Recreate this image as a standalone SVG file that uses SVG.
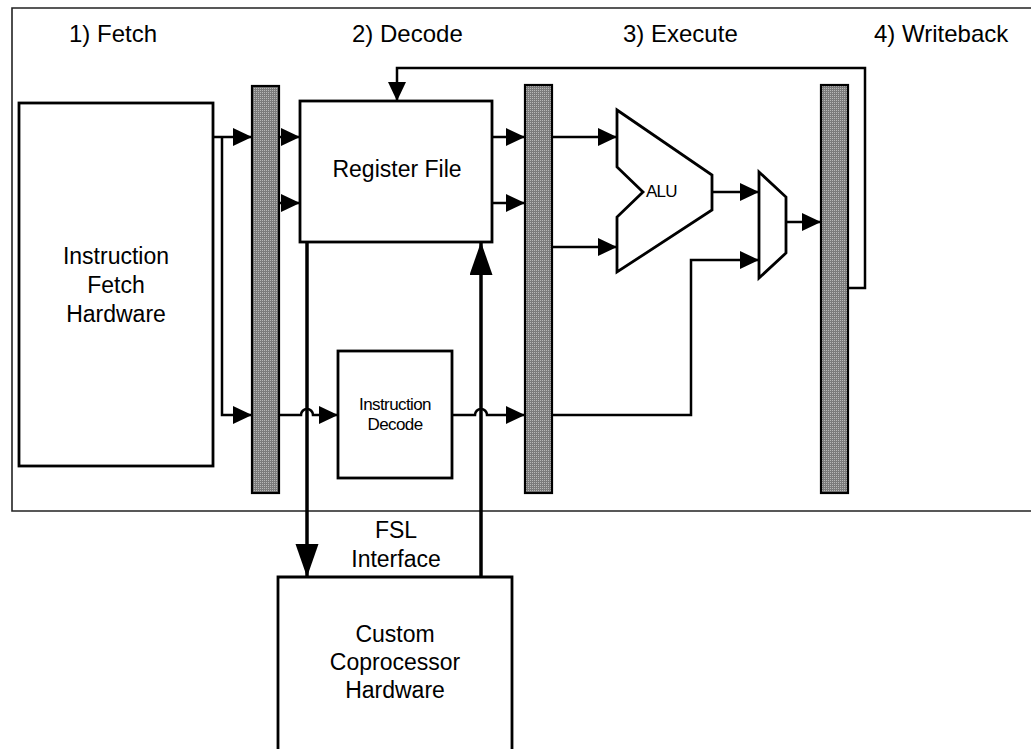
<svg xmlns="http://www.w3.org/2000/svg" width="1031" height="749" viewBox="0 0 1031 749">
<defs>
<style>
text{font-family:"Liberation Sans",Arial,sans-serif;fill:#000}
.big{font-size:24px}
.lbl{font-size:23px;text-anchor:middle}
.sm{font-size:17px;text-anchor:middle;letter-spacing:-0.6px}
.box{fill:#fff;stroke:#000;stroke-width:2.8}
.bar{fill:url(#stip);stroke:#000;stroke-width:2.2}
.ln{fill:none;stroke:#000;stroke-width:2.5}
.thk{fill:none;stroke:#000;stroke-width:3.5}
.frame{fill:none;stroke:#222;stroke-width:1.6}
</style>
<pattern id="stip" width="2" height="2" patternUnits="userSpaceOnUse">
<rect width="2" height="2" fill="#7b7b7b"/>
<rect width="1" height="1" fill="#b8b8b8"/>
</pattern>
<marker id="ah" markerWidth="20" markerHeight="19" refX="19" refY="9" orient="auto" markerUnits="userSpaceOnUse">
<path d="M0,0 L19,9 L0,18 z" fill="#000"/>
</marker>
<marker id="ahb" markerWidth="34" markerHeight="24" refX="33" refY="11.5" orient="auto" markerUnits="userSpaceOnUse">
<path d="M0,0 L33,11.5 L0,23 z" fill="#000"/>
</marker>
</defs>
<rect width="1031" height="749" fill="#fff"/>
<g id="frame"><path class="frame" d="M1031,8 H12 V511 H1031"/></g>
<g id="stages">
<text class="big" x="69" y="42">1) Fetch</text>
<text class="big" x="352" y="42">2) Decode</text>
<text class="big" x="623" y="42">3) Execute</text>
<text class="big" x="874" y="42">4) Writeback</text>
</g>
<g id="fetch">
<rect class="box" x="19" y="103" width="194" height="363"/>
<text class="lbl" x="116" y="264">Instruction</text>
<text class="lbl" x="116" y="293">Fetch</text>
<text class="lbl" x="116" y="322">Hardware</text>
</g>
<g id="latch1"><rect class="bar" x="252" y="86" width="27" height="407"/></g>
<g id="latch2"><rect class="bar" x="525" y="85" width="27" height="408"/></g>
<g id="latch3"><rect class="bar" x="821" y="85" width="27" height="408"/></g>
<g id="regfile">
<rect class="box" x="300" y="101" width="192" height="141"/>
<text class="lbl" x="397" y="177">Register File</text>
</g>
<g id="decode">
<rect class="box" x="338" y="351" width="114" height="127"/>
<text class="sm" x="395" y="410">Instruction</text>
<text class="sm" x="395" y="430">Decode</text>
</g>
<g id="alu">
<path class="box" d="M617,110 L712,175 L712,210 L617,272 L617,217 L643,192 L617,167 Z"/>
<text x="646" y="197" style="font-size:17px;letter-spacing:-0.8px">ALU</text>
</g>
<g id="mux"><path class="box" d="M759,172 L786,197 L786,253 L759,278 Z"/></g>
<g id="coproc">
<path class="box" d="M278,752 V577 H512 V752"/>
<text class="lbl" x="395" y="642">Custom</text>
<text class="lbl" x="395" y="670">Coprocessor</text>
<text class="lbl" x="395" y="698">Hardware</text>
</g>
<g id="fsl-label">
<text class="lbl" x="396" y="538">FSL</text>
<text class="lbl" x="396" y="567">Interface</text>
</g>
<g id="connectors">
<path class="ln" d="M213,137 H252" marker-end="url(#ah)"/>
<path class="ln" d="M222,137 V415 H252" marker-end="url(#ah)"/>
<path class="ln" d="M279,137 H300" marker-end="url(#ah)"/>
<path class="ln" d="M279,203 H300" marker-end="url(#ah)"/>
<path class="ln" d="M279,415 H301 A6,6 0 0 1 313,415 H338" marker-end="url(#ah)"/>
<path class="ln" d="M452,415 H475 A6,6 0 0 1 487,415 H525" marker-end="url(#ah)"/>
<path class="ln" d="M492,137 H525" marker-end="url(#ah)"/>
<path class="ln" d="M492,203 H525" marker-end="url(#ah)"/>
<path class="ln" d="M552,137 H617" marker-end="url(#ah)"/>
<path class="ln" d="M552,247 H617" marker-end="url(#ah)"/>
<path class="ln" d="M712,192 H759" marker-end="url(#ah)"/>
<path class="ln" d="M552,415 H691 V260 H759" marker-end="url(#ah)"/>
<path class="ln" d="M786,222 H821" marker-end="url(#ah)"/>
<path class="ln" d="M848,288 H865 V68 H397 V101" marker-end="url(#ah)"/>
<path class="thk" d="M307,242 V577" marker-end="url(#ahb)"/>
<path class="thk" d="M481,577 V242" marker-end="url(#ahb)"/>
</g>
</svg>
